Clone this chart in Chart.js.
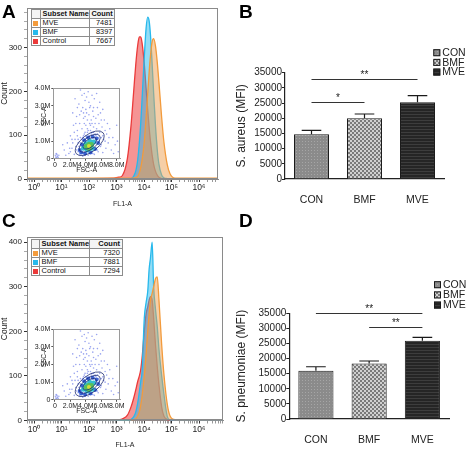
<!DOCTYPE html>
<html>
<head>
<meta charset="utf-8">
<script src="https://cdn.jsdelivr.net/npm/chart.js@4.4.1/dist/chart.umd.min.js"></script>
<style>
  html, body { margin: 0; padding: 0; background: #fff; }
  #fig { position: relative; width: 472px; height: 449px; overflow: hidden; }
  #fig canvas { position: absolute; }
  .letter { position: absolute; font: bold 19px "Liberation Sans", Arial, sans-serif; line-height: 19px; color: #000; }
  .subset { position: absolute; border-collapse: collapse; table-layout: fixed; background: #fff;
            font-family: "Liberation Sans", Arial, sans-serif; color: #111; }
  .subset td { border: 1px solid #8c8c8c; padding: 0 2px; height: 8px; line-height: 8px; overflow: hidden; white-space: nowrap; }
  .subset tr:first-child td { font-weight: bold; background: #f4f4f4; }
  .subset td.num { text-align: right; }
  .subset td.swc { padding: 0; }
  .subset .sw { display: block; width: 5px; height: 5px; margin: 0 auto; }
</style>
</head>
<body>
<div id="fig">
  <canvas id="histA" width="236" height="208" style="left:0;top:0"></canvas>
  <canvas id="scatA" width="95" height="91" style="left:30px;top:83px"></canvas>
  <canvas id="histC" width="236" height="225" style="left:0;top:224px"></canvas>
  <canvas id="scatC" width="95" height="91" style="left:30px;top:324px"></canvas>
  <canvas id="barB" width="236" height="224" style="left:236px;top:0"></canvas>
  <canvas id="barD" width="236" height="225" style="left:236px;top:224px"></canvas>
  <table class="subset" id="tblA" style="left:31px;top:9px;width:83px;font-size:7.3px"></table>
  <table class="subset" id="tblC" style="left:31px;top:239px;width:91px;font-size:7.5px"></table>
  <div class="letter" style="left:2px;top:2px">A</div>
  <div class="letter" style="left:239px;top:2px">B</div>
  <div class="letter" style="left:2px;top:211px">C</div>
  <div class="letter" style="left:239px;top:211px">D</div>
</div>
<script>
// ---- flow histograms (FL1-A bin centres, counts per subset) ----
const fl1Bins = [0.6, 810, 1230, 1640, 2490, 3340, 4190, 5040, 5900, 6750, 7590, 8460, 10200, 11900,
  13600, 15300, 17100, 19700, 22300, 26000, 30200, 34800, 43700, 52500, 70300, 88200, 134000, 270000, 8000000];

const mveA     = [2, 2, 2, 2, 2, 2, 2, 3, 6, 14, 26, 42, 85, 140, 194, 242, 280, 313, 320, 304, 267, 221, 141, 86, 32, 12, 2, 2, 2];
const bmfA     = [0, 0, 0, 0, 0, 1, 6, 19, 44, 82, 127, 180, 277, 344, 369, 361, 330, 264, 198, 124, 68, 34, 9, 3, 1, 0, 0, 0, 0];
const controlA = [0, 2, 4, 8, 47, 119, 198, 263, 305, 324, 324, 311, 263, 207, 158, 119, 87, 55, 34, 18, 9, 4, 1, 0, 0, 0, 0, 0, 0];

const mveC     = [2, 2, 2, 2, 2, 2, 2, 4, 10, 20, 35, 55, 100, 150, 200, 240, 270, 285, 300, 318, 322, 270, 170, 105, 35, 10, 2, 2, 2];
const bmfC     = [0, 0, 0, 0, 0, 2, 8, 20, 40, 65, 88, 110, 230, 265, 290, 340, 365, 400, 300, 250, 210, 160, 100, 60, 8, 1, 0, 0, 0];
const controlC = [0, 1, 2, 4, 12, 30, 50, 70, 88, 100, 115, 140, 200, 240, 255, 270, 278, 270, 230, 170, 120, 80, 30, 10, 2, 0, 0, 0, 0];

const subsetNames = ["MVE", "BMF", "Control"];
const subsetCountsA = [7481, 8397, 7667];
const subsetCountsC = [7320, 7881, 7294];

// ---- FSC-A / SSC-A inset (millions) ----
const insetCloud = [[0.1,0.1],[0.2,0.05],[0.05,0.2],[0.3,0.15],[0.15,0.3],[0.4,0.08],[0.25,0.25],[0.5,0.2],
  [1.2,0.5],[1.6,0.9],[1.8,0.3],[2.0,1.3],[2.2,0.6],[2.4,1.9],[2.5,0.25],[2.6,1.1],[2.8,2.4],[2.9,1.6],
  [3.0,0.4],[3.1,3.1],[3.2,2.0],[3.3,1.2],[3.4,2.7],[3.5,3.6],[3.5,1.7],[3.6,0.3],[3.7,2.3],[3.8,1.4],
  [3.9,3.3],[4.0,1.9],[4.0,2.8],[4.1,1.2],[4.2,2.2],[4.3,3.8],[4.3,1.6],[4.4,2.5],[4.5,1.3],[4.6,3.0],
  [4.6,1.9],[4.7,2.2],[4.8,1.5],[4.9,2.7],[5.0,1.8],[5.1,3.4],[5.2,1.4],[5.3,2.3],[5.4,1.7],[5.5,2.9],
  [5.6,1.2],[5.7,2.0],[5.8,1.5],[5.9,2.6],[6.0,0.8],[6.1,1.8],[6.3,1.1],[6.4,2.2],[6.6,0.6],[6.7,1.4],
  [6.9,0.9],[7.1,1.7],[7.3,0.5],[7.5,1.2],[7.8,0.8],[8.0,1.9],[8.2,0.4],[3.0,0.9],[3.4,0.5],[2.7,0.7],
  [5.5,0.5],[6.2,0.35],[4.9,0.3],[3.9,0.2],[2.3,0.9],[1.9,0.6],[4.1,3.5],[3.6,2.9],[4.8,3.6],[5.8,3.2],
  [2.6,3.4],[3.3,3.9],[3.8,2.0],[4.5,2.0],[5.0,2.4],[4.2,1.5],[3.6,1.2],[5.3,1.0],[2.9,1.3],[6.5,1.6],
  [3.1,0.7],[3.3,0.9],[3.5,1.1],[3.7,1.3],[3.9,1.5],[4.2,1.7],[4.6,1.6],[5.0,1.5],[5.3,1.3],[5.7,1.0],
  [5.9,0.7],[5.6,0.4],[5.1,0.25],[4.3,0.2],[3.6,0.15],[3.2,0.25],[2.8,0.5],[3.0,1.1],[4.0,1.3],[4.7,1.4],
  [5.5,1.4],[6.2,1.3],[6.5,1.0],[6.0,1.2],[2.5,1.5],[2.2,1.1],[2.0,0.4],[1.4,0.2],[1.0,0.8],[7.0,1.2],
  [7.6,0.3],[8.1,1.0],[6.8,2.0],[6.2,2.8],[5.4,3.7],[4.5,2.9],[3.8,3.7],[3.2,2.5],[2.9,2.9],[3.7,2.6],
  [4.4,3.2],[5.0,2.9],[5.6,2.5],[6.0,2.2],[2.7,2.0],[2.3,2.6],[3.9,2.4],[4.8,2.0],[5.2,2.0],[4.1,2.6]];
const insetRing = [[3.2,0.5],[3.5,0.8],[3.8,1.05],[4.3,1.2],[4.9,1.25],[5.4,1.15],[5.6,0.9],[5.2,0.55],
  [4.6,0.35],[3.9,0.3],[3.4,0.35]];
const insetMid  = [[3.7,0.6],[4.0,0.85],[4.5,1.0],[5.0,0.95],[4.8,0.6],[4.2,0.5]];
const insetCore = [[4.1,0.7],[4.4,0.8],[4.7,0.8],[4.4,0.6]];
const insetPeak = [[4.4,0.72]];

// ---- MFI bar charts ----
const groups = ["CON", "BMF", "MVE"];
const aureusMFI = [14700, 20000, 25250];
const aureusSEM = [1300, 1400, 2200];
const aureusSig = [{ from: 0, to: 1, level: 25400, mark: "*" }, { from: 0, to: 2, level: 32800, mark: "**" }];
const pneumoMFI = [16000, 18400, 25900];
const pneumoSEM = [1300, 800, 1100];
const pneumoSig = [{ from: 0, to: 2, level: 35000, mark: "**" }, { from: 1, to: 2, level: 30400, mark: "**" }];

Chart.defaults.font.family = '"Liberation Sans", Arial, sans-serif';
Chart.defaults.color = "#222";

// frame round the plot area
const framePlugin = {
  id: "frame",
  afterDraw(chart, args, opts) {
    const a = chart.chartArea, ctx = chart.ctx;
    ctx.save();
    ctx.strokeStyle = opts.color || "#8a8a8a";
    ctx.lineWidth = 1;
    ctx.strokeRect(Math.round(a.left) + 0.5, Math.round(a.top) + 0.5,
      Math.round(a.right - a.left) - 1, Math.round(a.bottom - a.top) - 1);
    ctx.restore();
  }
};

const SUP = ["⁰", "¹", "²", "³", "⁴", "⁵", "⁶", "⁷"];
const logTicks = [];
for (let k = -1; k <= 6; k++) for (let j = 1; j <= 9; j++) logTicks.push(j * Math.pow(10, k));
function isDecade(v) {
  const e = Math.log10(v);
  return Math.abs(e - Math.round(e)) < 1e-6;
}

function histChart(id, series, yMax, xMax, padTop, padRight, axisH) {
  const colors = ["#f39b3c", "#27b9ec", "#eb3a3a"];
  const fills = ["rgba(238,160,80,0.5)", "rgba(40,185,236,0.5)", "rgba(236,60,60,0.55)"];
  return new Chart(document.getElementById(id), {
    type: "line",
    data: {
      datasets: series.map((s, i) => ({
        label: subsetNames[i],
        data: fl1Bins.map((x, j) => ({ x: x, y: s[j] })),
        borderColor: colors[i],
        backgroundColor: fills[i],
        fill: "origin",
        borderWidth: 1.3,
        pointRadius: 0,
        cubicInterpolationMode: "monotone"
      }))
    },
    options: {
      responsive: false,
      animation: false,
      layout: { padding: { top: padTop, right: padRight, left: 0, bottom: 0 } },
      plugins: { legend: { display: false }, tooltip: { enabled: false }, frame: { color: "#8a8a8a" } },
      scales: {
        x: {
          type: "logarithmic",
          min: 0.556,
          max: xMax,
          afterBuildTicks: s => { s.ticks = logTicks.filter(v => v >= s.min && v <= s.max).map(v => ({ value: v })); },
          afterFit: s => { s.height = axisH; },
          grid: { drawOnChartArea: false, tickLength: 3, tickColor: c => (c.tick && isDecade(c.tick.value)) ? "#333" : "#999" },
          border: { color: "#8a8a8a" },
          ticks: {
            autoSkip: false, maxRotation: 0, padding: 1, font: { size: 8.5 },
            callback: v => isDecade(v) && Math.round(Math.log10(v)) >= 0 ? "10" + SUP[Math.round(Math.log10(v))] : ""
          },
          title: { display: true, text: "FL1-A", font: { size: 7 }, padding: 0 }
        },
        y: {
          min: 0,
          max: yMax,
          afterBuildTicks: s => { const t = []; for (let v = 0; v <= s.max; v += 20) t.push({ value: v }); s.ticks = t; },
          afterFit: s => { s.width = 27; },
          grid: { drawOnChartArea: false, tickLength: 3, tickColor: c => (c.tick && c.tick.value % 100 === 0) ? "#333" : "#aaa" },
          border: { color: "#8a8a8a" },
          ticks: { autoSkip: false, padding: 2, font: { size: 8 }, callback: v => v % 100 === 0 ? String(v) : "" },
          title: { display: true, text: "Count", font: { size: 8.5 }, padding: 0 }
        }
      }
    },
    plugins: [framePlugin]
  });
}

// contour gates and rotated SSC-A label for the inset
const insetDecor = {
  id: "insetDecor",
  afterDatasetsDraw(chart) {
    const ctx = chart.ctx, xs = chart.scales.x, ys = chart.scales.y;
    const cx = xs.getPixelForValue(4.5), cy = ys.getPixelForValue(0.88);
    ctx.save();
    ctx.strokeStyle = "#1d2b6e";
    ctx.lineWidth = 0.8;
    [[17, 8.5], [12.5, 6], [8, 4]].forEach(r => {
      ctx.beginPath();
      ctx.ellipse(cx, cy, r[0], r[1], -0.66, 0, Math.PI * 2);
      ctx.stroke();
    });
    ctx.restore();
  },
  afterDraw(chart) {
    const ctx = chart.ctx, a = chart.chartArea;
    ctx.save();
    ctx.translate(a.left - 9, (a.top + a.bottom) / 2 - 7);
    ctx.rotate(-Math.PI / 2);
    ctx.font = '6.5px "Liberation Sans", Arial, sans-serif';
    ctx.fillStyle = "#222";
    ctx.textAlign = "center";
    ctx.textBaseline = "middle";
    ctx.fillText("SSC-A", 0, 0);
    ctx.restore();
  }
};

function scatterInset(id) {
  const pts = a => a.map(p => ({ x: p[0], y: p[1] }));
  const layer = (d, col, r) => ({ data: pts(d), backgroundColor: col, borderWidth: 0, pointRadius: r });
  const mFmt = v => v === 0 ? "0" : v.toFixed(1) + "M";
  return new Chart(document.getElementById(id), {
    type: "scatter",
    data: {
      datasets: [
        layer(insetPeak, "#d9dc3c", 2.0),
        layer(insetCore, "#58c05a", 2.7),
        layer(insetMid, "#35bfcf", 2.5),
        layer(insetRing, "#3b62d6", 2.0),
        layer(insetCloud, "rgba(70,90,225,0.55)", 0.8)
      ]
    },
    options: {
      responsive: false,
      animation: false,
      layout: { padding: { top: 2, right: 5, left: 0, bottom: 0 } },
      plugins: { legend: { display: false }, tooltip: { enabled: false }, frame: { color: "#9a9a9a" } },
      scales: {
        x: {
          type: "linear", min: -0.22, max: 8.43,
          afterBuildTicks: s => { s.ticks = [0, 2, 4, 6, 8].map(v => ({ value: v })); },
          afterFit: s => { s.height = 15.2; },
          grid: { drawOnChartArea: false, tickLength: 2, color: "#555" },
          border: { color: "#9a9a9a" },
          ticks: { autoSkip: false, maxRotation: 0, padding: 0, font: { size: 7 }, callback: mFmt },
          title: { display: true, text: "FSC-A", font: { size: 7 }, padding: 0 }
        },
        y: {
          min: 0, max: 4,
          afterBuildTicks: s => { s.ticks = [0, 1, 2, 3, 4].map(v => ({ value: v })); },
          afterFit: s => { s.width = 23.3; },
          grid: { drawOnChartArea: false, tickLength: 2, color: "#555" },
          border: { color: "#9a9a9a" },
          ticks: { autoSkip: false, padding: 1, font: { size: 7 }, callback: mFmt }
        }
      }
    },
    plugins: [framePlugin, insetDecor]
  });
}

function fillTable(id, counts, cols) {
  const swatch = ["#f39b3c", "#27b9ec", "#eb3a3a"];
  let html = "<colgroup>" + cols.map(w => '<col style="width:' + w + 'px">').join("") + "</colgroup>";
  html += '<tr><td class="swc"></td><td>Subset Name</td><td class="num">Count</td></tr>';
  subsetNames.forEach((n, i) => {
    html += '<tr><td class="swc"><span class="sw" style="background:' + swatch[i] + '"></span></td><td>' +
      n + '</td><td class="num">' + counts[i] + "</td></tr>";
  });
  document.getElementById(id).innerHTML = html;
}

// ---- bar chart helpers ----
function pattern(w, h, draw) {
  const c = document.createElement("canvas");
  c.width = w; c.height = h;
  draw(c.getContext("2d"));
  return c.getContext("2d").createPattern(c, "repeat");
}
const conFill = pattern(3, 3, g => { g.fillStyle = "#8b8b8b"; g.fillRect(0, 0, 3, 3); g.fillStyle = "#a6a6a6"; g.fillRect(0, 0, 1, 1); });
const bmfFill = pattern(4, 4, g => { g.fillStyle = "#d0d0d0"; g.fillRect(0, 0, 4, 4); g.fillStyle = "#7a7a7a"; g.fillRect(0, 0, 2, 2); g.fillRect(2, 2, 2, 2); });
const mveFill = pattern(2, 3, g => { g.fillStyle = "#252525"; g.fillRect(0, 0, 2, 3); g.fillStyle = "#3d3d3d"; g.fillRect(0, 0, 2, 1); });

const barExtras = {
  id: "barExtras",
  afterDatasetsDraw(chart) {
    const ctx = chart.ctx, ds = chart.data.datasets[0], meta = chart.getDatasetMeta(0), y = chart.scales.y;
    ctx.save();
    ctx.strokeStyle = "#1a1a1a";
    ctx.lineWidth = 1.2;
    ds.data.forEach((v, i) => {
      const bar = meta.data[i];
      const top = y.getPixelForValue(v + ds.sem[i]);
      const half = bar.width * 0.28;
      ctx.beginPath();
      ctx.moveTo(bar.x, y.getPixelForValue(v));
      ctx.lineTo(bar.x, top);
      ctx.moveTo(bar.x - half, top);
      ctx.lineTo(bar.x + half, top);
      ctx.stroke();
    });
    ctx.strokeStyle = "#333";
    ctx.lineWidth = 1;
    ctx.fillStyle = "#222";
    ctx.font = '10px "Liberation Sans", Arial, sans-serif';
    ctx.textAlign = "center";
    ctx.textBaseline = "alphabetic";
    ds.brackets.forEach(b => {
      const x1 = meta.data[b.from].x, x2 = meta.data[b.to].x, yy = Math.round(y.getPixelForValue(b.level)) + 0.5;
      ctx.beginPath();
      ctx.moveTo(x1, yy);
      ctx.lineTo(x2, yy);
      ctx.stroke();
      ctx.fillText(b.mark, (x1 + x2) / 2, yy - 1.5);
    });
    ctx.restore();
  },
  afterDraw(chart, args, o) {
    const ctx = chart.ctx, ds = chart.data.datasets[0];
    ctx.save();
    ctx.font = '10.5px "Liberation Sans", Arial, sans-serif';
    ctx.textBaseline = "middle";
    chart.data.labels.forEach((lab, i) => {
      const cy = o.y + i * o.step;
      ctx.fillStyle = ds.backgroundColor[i];
      ctx.fillRect(o.x, cy - 3.5, 7, 7);
      ctx.strokeStyle = "#1a1a1a";
      ctx.lineWidth = 1;
      ctx.strokeRect(o.x + 0.5, cy - 3, 6, 6);
      ctx.fillStyle = "#222";
      ctx.fillText(lab, o.x + 9, cy + 0.5);
    });
    ctx.restore();
  }
};

function barChart(id, title, mfi, sem, sig, pad, yWidth, legendPos) {
  return new Chart(document.getElementById(id), {
    type: "bar",
    data: {
      labels: groups,
      datasets: [{
        data: mfi, sem: sem, brackets: sig,
        backgroundColor: [conFill, bmfFill, mveFill],
        borderColor: "#1a1a1a", borderWidth: 1,
        barPercentage: 0.66, categoryPercentage: 1
      }]
    },
    options: {
      responsive: false,
      animation: false,
      layout: { padding: pad },
      plugins: { legend: { display: false }, tooltip: { enabled: false }, barExtras: legendPos },
      scales: {
        x: {
          grid: { display: false },
          border: { color: "#222", width: 1.2 },
          afterFit: s => { s.height = 24; },
          ticks: { padding: 7, font: { size: 10.5 } }
        },
        y: {
          min: 0, max: 35000,
          ticks: { stepSize: 5000, padding: 0, font: { size: 10 }, callback: v => String(v) },
          grid: { drawOnChartArea: false, tickLength: 3, color: "#222" },
          border: { color: "#222", width: 1.2 },
          afterFit: s => { s.width = yWidth; },
          title: { display: true, text: title, font: { size: 12 }, padding: { top: -2, bottom: 0 } }
        }
      }
    },
    plugins: [barExtras]
  });
}

histChart("histA", [mveA, bmfA, controlA], 390, 4.9e6, 8, 18, 29);
histChart("histC", [mveC, bmfC, controlC], 411, 7.4e6, 13.3, 13, 28.5);
scatterInset("scatA");
scatterInset("scatC");
fillTable("tblA", subsetCountsA, [8.6, 49, 25.7]);
fillTable("tblC", subsetCountsC, [7.6, 50.7, 32.7]);
barChart("barB", "S. aureus (MFI)", aureusMFI, aureusSEM, aureusSig,
  { top: 72.7, right: 28, bottom: 21, left: 0 }, 49, { x: 197.3, y: 52.7, step: 9.7 });
barChart("barD", "S. pneumoniae (MFI)", pneumoMFI, pneumoSEM, pneumoSig,
  { top: 89.3, right: 23, bottom: 6, left: 0 }, 53.3, { x: 198, y: 60.7, step: 10.2 });
</script>
</body>
</html>
